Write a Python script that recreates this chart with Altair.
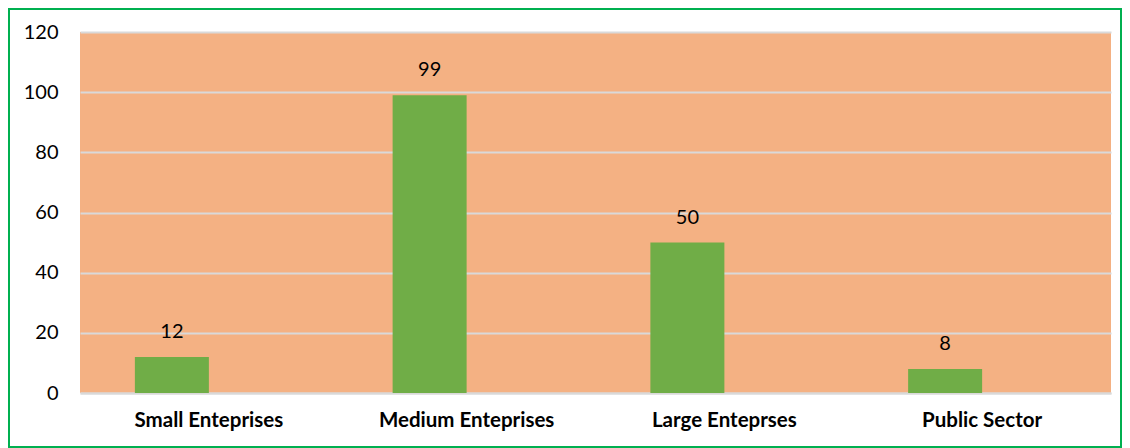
import altair as alt
import pandas as pd

categories = ["Small Enteprises", "Medium Enteprises", "Large Enteprses", "Public Sector"]
values = [12, 99, 50, 8]

df = pd.DataFrame({"category": categories, "value": values})

W, H = 1031, 361
FONT = "Lato"

x = alt.X("category:N", sort=categories, title=None,
          scale=alt.Scale(paddingInner=0, paddingOuter=0),
          axis=alt.Axis(labelAngle=0, labelFontWeight="bold", labelFontSize=20.5,
                        labelColor="#000000", labelFont=FONT, ticks=False,
                        labelPadding=17, domain=True, domainColor="#D9D9D9",
                        domainWidth=2))
y = alt.Y("value:Q", title=None,
          scale=alt.Scale(domain=[0, 120], nice=False),
          axis=alt.Axis(values=[0, 20, 40, 60, 80, 100, 120], ticks=False, domain=False,
                        labelFontSize=20, labelColor="#000000", labelFont=FONT,
                        labelPadding=22, gridColor="#D9D9D9", gridWidth=2))

base = alt.Chart(df)

bars = base.mark_bar(color="#70AD47", width=74, xOffset=-37).encode(x=x, y=y)
labels = base.mark_text(xOffset=-37, dy=-25, baseline="middle", fontSize=20,
                        font=FONT, color="#000000").encode(x=x, y=y, text="value:Q")

border = alt.Chart(pd.DataFrame({"a": [0]})).mark_rect(
    fill=None, stroke="#00B050", strokeWidth=2, clip=False
).encode(x=alt.value(-71), x2=alt.value(W + 10), y=alt.value(-23), y2=alt.value(H + 54))

chart = alt.layer(bars, labels, border).properties(
    width=W, height=H,
    padding={"left": 72, "top": 24, "right": 11, "bottom": 55},
    autosize=alt.AutoSizeParams(type="none"),
    background="#FFFFFF",
).configure_view(fill="#F4B183", stroke=None)

chart.save("out.html", embed_options={"renderer": "svg", "actions": False})
